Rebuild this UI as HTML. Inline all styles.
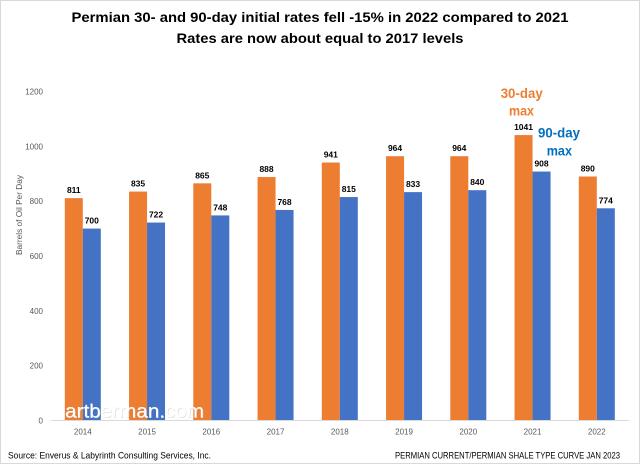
<!DOCTYPE html>
<html><head><meta charset="utf-8"><style>
html,body{margin:0;padding:0;background:#fff;}
svg{display:block;}
text{font-family:"Liberation Sans",Arial,sans-serif;}
</style></head><body>
<svg width="640" height="464" viewBox="0 0 640 464" xmlns="http://www.w3.org/2000/svg">
<rect x="0" y="0" width="640" height="464" fill="#fff"/>
<rect x="0.5" y="0.5" width="639" height="463" fill="none" stroke="#d9d9d9" stroke-width="1"/>
<!-- Title -->
<text x="320" y="22" text-anchor="middle" font-size="14" font-weight="bold" fill="#000" textLength="497" lengthAdjust="spacingAndGlyphs">Permian 30- and 90-day initial rates fell -15% in 2022 compared to 2021</text>
<text x="320" y="43" text-anchor="middle" font-size="14" font-weight="bold" fill="#000" textLength="287" lengthAdjust="spacingAndGlyphs">Rates are now about equal to 2017 levels</text>
<!-- Y axis labels -->
<g font-size="8" fill="#595959" text-anchor="end">
<text x="43" y="423.5">0</text>
<text x="43" y="368.7">200</text>
<text x="43" y="313.8">400</text>
<text x="43" y="259">600</text>
<text x="43" y="204.2">800</text>
<text x="43" y="149.3">1000</text>
<text x="43" y="94.5">1200</text>
</g>
<text transform="translate(22,215) rotate(-90)" text-anchor="middle" font-size="8" fill="#595959" textLength="80" lengthAdjust="spacingAndGlyphs">Barrels of Oil Per Day</text>
<!-- Bars orange -->
<g fill="#ED7D31">
<rect x="64.8" y="198.15" width="18" height="222.35"/>
<rect x="129.05" y="191.57" width="18" height="228.93"/>
<rect x="193.3" y="183.34" width="18" height="237.16"/>
<rect x="257.55" y="177.04" width="18" height="243.46"/>
<rect x="321.8" y="162.51" width="18" height="257.99"/>
<rect x="386.05" y="156.2" width="18" height="264.3"/>
<rect x="450.3" y="156.2" width="18" height="264.3"/>
<rect x="514.55" y="135.09" width="18" height="285.41"/>
<rect x="578.8" y="176.49" width="18" height="244.01"/>
</g>
<g fill="#4472C4">
<rect x="82.8" y="228.58" width="18" height="191.92"/>
<rect x="147.05" y="222.55" width="18" height="197.95"/>
<rect x="211.3" y="215.42" width="18" height="205.08"/>
<rect x="275.55" y="209.94" width="18" height="210.56"/>
<rect x="339.8" y="197.05" width="18" height="223.45"/>
<rect x="404.05" y="192.12" width="18" height="228.38"/>
<rect x="468.3" y="190.2" width="18" height="230.3"/>
<rect x="532.55" y="171.55" width="18" height="248.95"/>
<rect x="596.8" y="208.29" width="18" height="212.21"/>
</g>
<!-- value labels -->
<g font-size="8.5" font-weight="bold" fill="#000" text-anchor="middle">
<text x="73.8" y="193.2">811</text>
<text x="138.05" y="186.6">835</text>
<text x="202.3" y="178.3">865</text>
<text x="266.55" y="172">888</text>
<text x="330.8" y="157.5">941</text>
<text x="395.05" y="151.2">964</text>
<text x="459.3" y="151.2">964</text>
<text x="523.55" y="130.1">1041</text>
<text x="587.8" y="171.5">890</text>
<text x="91.8" y="223.6">700</text>
<text x="156.05" y="217.6">722</text>
<text x="220.3" y="210.4">748</text>
<text x="284.55" y="204.9">768</text>
<text x="348.8" y="192">815</text>
<text x="413.05" y="187.1">833</text>
<text x="477.3" y="185.2">840</text>
<text x="541.55" y="166.5">908</text>
<text x="605.8" y="203.3">774</text>
</g>
<!-- axis line -->
<line x1="51" y1="420.5" x2="629" y2="420.5" stroke="#d9d9d9" stroke-width="1"/>
<!-- watermark -->
<text x="65.5" y="417.8" font-size="19" fill="#d0d0d0" textLength="139" lengthAdjust="spacingAndGlyphs">artberman.com</text>
<text x="65" y="417.3" font-size="19" fill="#ffffff" textLength="139" lengthAdjust="spacingAndGlyphs">artberman.com</text>
<!-- x labels -->
<g font-size="8" fill="#595959" text-anchor="middle">
<text x="82.8" y="434.5">2014</text>
<text x="147.05" y="434.5">2015</text>
<text x="211.3" y="434.5">2016</text>
<text x="275.55" y="434.5">2017</text>
<text x="339.8" y="434.5">2018</text>
<text x="404.05" y="434.5">2019</text>
<text x="468.3" y="434.5">2020</text>
<text x="532.55" y="434.5">2021</text>
<text x="596.8" y="434.5">2022</text>
</g>
<!-- annotations -->
<g font-size="14" font-weight="bold">
<text x="500.7" y="98" fill="#ED7D31" textLength="42" lengthAdjust="spacingAndGlyphs">30-day</text>
<text x="509" y="115.5" fill="#ED7D31" textLength="25" lengthAdjust="spacingAndGlyphs">max</text>
<text x="538" y="137.5" fill="#0070C0" textLength="42" lengthAdjust="spacingAndGlyphs">90-day</text>
<text x="546.7" y="155.5" fill="#0070C0" textLength="25.3" lengthAdjust="spacingAndGlyphs">max</text>
</g>
<!-- footer -->
<text x="8" y="458.5" font-size="9.5" fill="#000" textLength="203" lengthAdjust="spacingAndGlyphs">Source:  Enverus &amp; Labyrinth Consulting Services, Inc.</text>
<text x="395" y="458.5" font-size="9.5" fill="#000" textLength="225" lengthAdjust="spacingAndGlyphs">PERMIAN CURRENT/PERMIAN SHALE TYPE CURVE JAN 2023</text>
</svg>
</body></html>
